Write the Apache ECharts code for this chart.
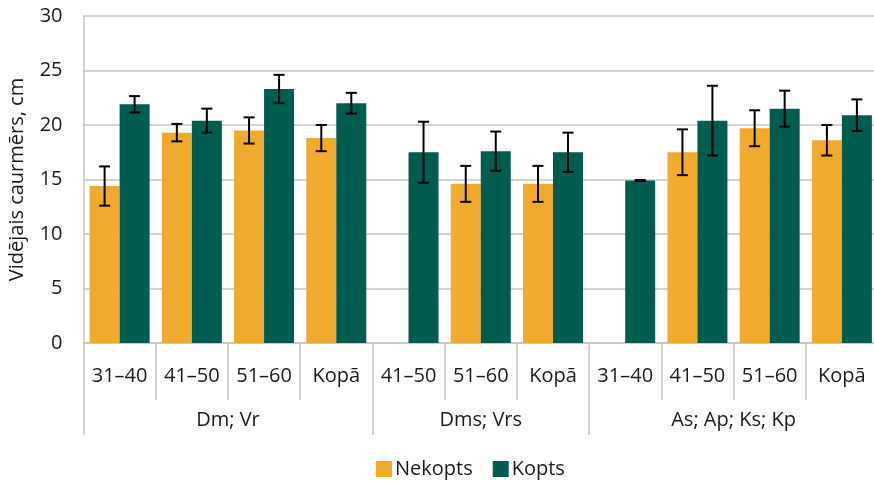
<!DOCTYPE html>
<html>
<head>
<meta charset="utf-8">
<style>
  html, body { margin: 0; padding: 0; background: #fff; }
  #chart { width: 874px; height: 481px; }
</style>
<script src="https://cdn.jsdelivr.net/npm/echarts@6/dist/echarts.min.js"></script>
</head>
<body>
<div id="chart"></div>
<script>
// Age classes on the lower axis, grouped by forest type
const categories = ['31–40', '41–50', '51–60', 'Kopā', '41–50', '51–60', 'Kopā', '31–40', '41–50', '51–60', 'Kopā'];
const groupNames = ['Dm; Vr', 'Dms; Vrs', 'As; Ap; Ks; Kp'];
const groupBounds = [0, 4, 7, 11];
const groupCenters = [2, 5.5, 9];

// Mean diameter (cm) and error half-widths
const nekopts = [14.4, 19.3, 19.5, 18.8, null, 14.6, 14.6, null, 17.5, 19.7, 18.6];
const nekoptsErr = [1.8, 0.8, 1.2, 1.2, null, 1.65, 1.65, null, 2.1, 1.65, 1.4];
const kopts = [21.9, 20.4, 23.3, 22.0, 17.5, 17.6, 17.5, 14.9, 20.4, 21.5, 20.9];
const koptsErr = [0.75, 1.1, 1.3, 0.95, 2.8, 1.8, 1.8, 0.05, 3.2, 1.65, 1.45];

const yTicks = [0, 5, 10, 15, 20, 25, 30];

const COLOR_NEK = '#F0AB2E';
const COLOR_KOP = '#005C4E';
const GRID_COLOR = '#C4C4C4';
const FONT = '"Open Sans", "Noto Sans", sans-serif';
const BAR_W = 30;

function errData(vals, errs) {
  const out = [];
  vals.forEach((v, i) => {
    if (v != null && errs[i] != null) out.push([i, v - errs[i], v + errs[i]]);
  });
  return out;
}

function errRenderer(offset) {
  return function (params, api) {
    const i = api.value(0);
    const lo = api.coord([i, api.value(1)]);
    const hi = api.coord([i, api.value(2)]);
    const x = lo[0] + offset;
    const cap = 5.5;
    const style = { stroke: '#000', lineWidth: 2 };
    return {
      type: 'group',
      children: [
        { type: 'line', shape: { x1: x, y1: hi[1], x2: x, y2: lo[1] }, style },
        { type: 'line', shape: { x1: x - cap, y1: hi[1], x2: x + cap, y2: hi[1] }, style },
        { type: 'line', shape: { x1: x - cap, y1: lo[1], x2: x + cap, y2: lo[1] }, style }
      ]
    };
  };
}

const chart = echarts.init(document.getElementById('chart'));
chart.setOption({
  animation: false,
  textStyle: { fontFamily: FONT, color: '#1a1a1a' },
  grid: { left: 83.5, right: -4, top: 16, bottom: 138, outerBoundsMode: 'none', containLabel: false },
  legend: {
    left: 371,
    bottom: -3,
    itemWidth: 16,
    itemHeight: 16,
    itemGap: 20,
    icon: 'rect',
    textStyle: { fontSize: 20, fontFamily: FONT, color: '#1a1a1a', padding: [0, 0, 0, -2] },
    data: ['Nekopts', 'Kopts']
  },
  xAxis: [
    {
      type: 'category',
      data: categories,
      boundaryGap: true,
      axisLine: { show: true, lineStyle: { color: GRID_COLOR, width: 1.5 } },
      axisTick: { show: true, interval: 0, length: 57, lineStyle: { color: GRID_COLOR, width: 1.5 } },
      axisLabel: { interval: 0, margin: 23, fontSize: 20, color: '#1a1a1a', fontFamily: FONT }
    },
    {
      type: 'value',
      min: 0,
      max: 11,
      position: 'bottom',
      axisLine: { show: false },
      splitLine: { show: false },
      axisTick: { show: true, customValues: groupBounds, length: 92, lineStyle: { color: GRID_COLOR, width: 1.5 } },
      axisLabel: {
        customValues: groupCenters,
        margin: 67,
        fontSize: 20,
        color: '#1a1a1a',
        fontFamily: FONT,
        formatter: (v) => groupNames[groupCenters.indexOf(v)] || ''
      }
    }
  ],
  yAxis: {
    type: 'value',
    min: 0,
    max: 30,
    interval: 5,
    name: 'Vidējais caurmērs, cm',
    nameLocation: 'middle',
    nameGap: 56,
    nameTextStyle: { fontSize: 20, color: '#1a1a1a', fontFamily: FONT },
    axisLine: { show: true, lineStyle: { color: GRID_COLOR, width: 1.5 } },
    axisTick: { show: false },
    axisLabel: {
      margin: 21,
      fontSize: 20,
      color: '#1a1a1a',
      fontFamily: FONT,
      customValues: yTicks
    },
    splitLine: { lineStyle: { color: GRID_COLOR, width: 1.5 } }
  },
  series: [
    {
      name: 'Nekopts',
      type: 'bar',
      data: nekopts,
      barWidth: BAR_W,
      barGap: '0%',
      itemStyle: { color: COLOR_NEK }
    },
    {
      name: 'Kopts',
      type: 'bar',
      data: kopts,
      barWidth: BAR_W,
      barGap: '0%',
      itemStyle: { color: COLOR_KOP }
    },
    {
      name: 'errNekopts',
      type: 'custom',
      renderItem: errRenderer(-BAR_W / 2),
      data: errData(nekopts, nekoptsErr),
      encode: { x: 0, y: [1, 2] },
      z: 10,
      silent: true
    },
    {
      name: 'errKopts',
      type: 'custom',
      renderItem: errRenderer(BAR_W / 2),
      data: errData(kopts, koptsErr),
      encode: { x: 0, y: [1, 2] },
      z: 10,
      silent: true
    }
  ]
});
</script>
</body>
</html>
